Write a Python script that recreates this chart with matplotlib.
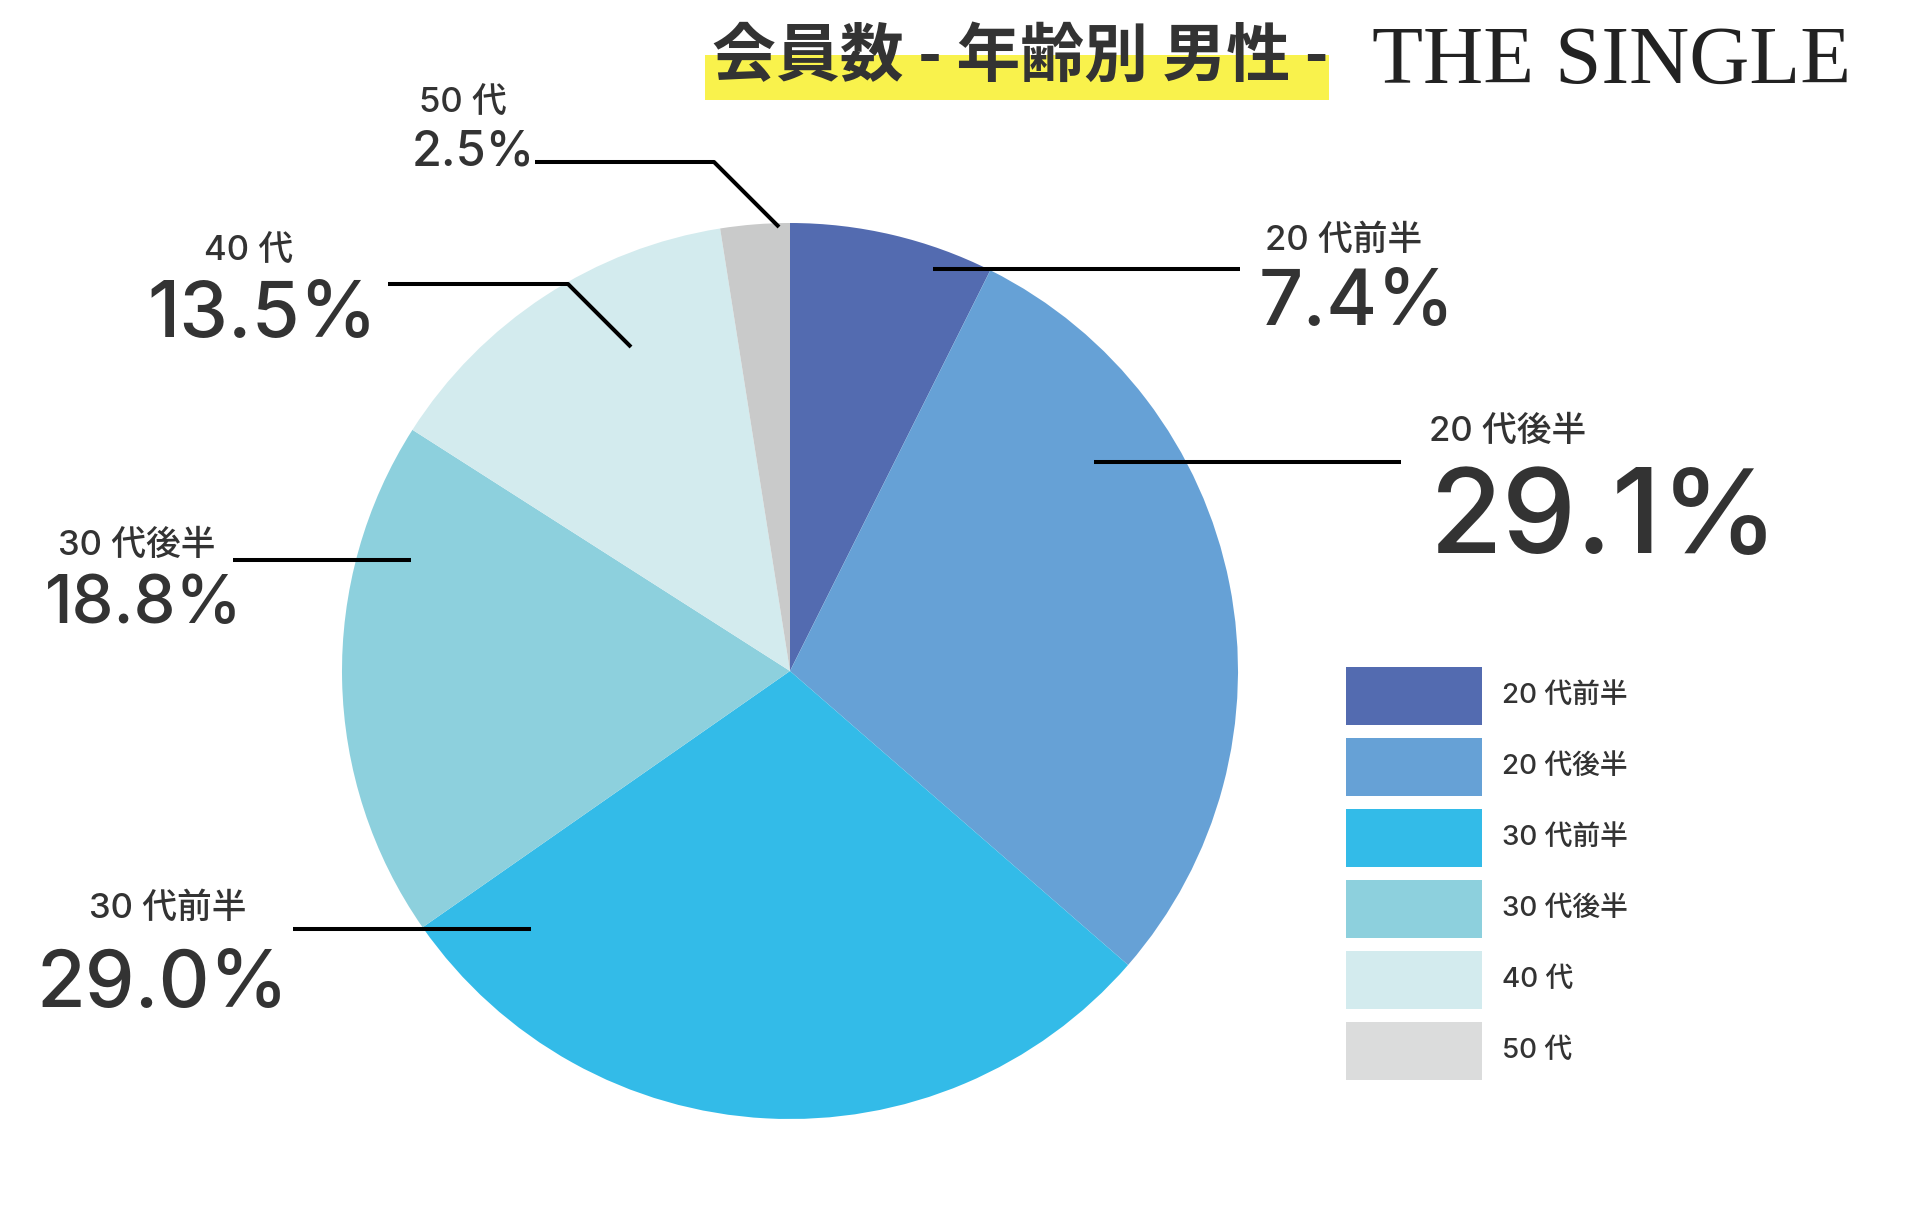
import matplotlib.pyplot as plt
from matplotlib.patches import Rectangle

plt.rcParams['font.family'] = ['Inter', 'Noto Sans CJK JP', 'DejaVu Sans']

# data
labels = ['20 代前半', '20 代後半', '30 代前半', '30 代後半', '40 代', '50 代']
shares = [7.4, 29.1, 29.0, 18.8, 13.5, 2.5]
pie_colors = ['#536BB0', '#66A1D6', '#33BBE8', '#8DD0DD', '#D3EBEE', '#C9CACA']
legend_colors = ['#536BB0', '#66A1D6', '#33BBE8', '#8DD0DD', '#D3EBEE', '#DBDCDC']

W, H = 1920, 1205
fig = plt.figure(figsize=(W / 100, H / 100), dpi=100)
ax = fig.add_axes([0, 0, 1, 1])


def Y(y):
    # image-style y (from top) -> data y
    return H - y


ax.pie(shares, colors=pie_colors, startangle=90, counterclock=False,
       center=(790, Y(671)), radius=448, wedgeprops=dict(linewidth=0), frame=True)
ax.set_xlim(0, W)
ax.set_ylim(0, H)
ax.set_aspect('equal')
ax.axis('off')

# callouts: small label pos, big value pos, value size, leader polyline
callouts = [
    ((1265, 241), (1259, 304), 56, [(933, 269), (1240, 269)]),
    ((1429, 432), (1430, 522), 85, [(1094, 462), (1401, 462)]),
    ((89, 909), (37, 986), 57, [(293, 929), (531, 929)]),
    ((58, 546), (45, 606), 48, [(233, 560), (411, 560)]),
    ((204, 251), (147, 316), 56, [(388, 284), (568, 284), (631, 347)]),
    ((419, 103), (412, 152), 35, [(535, 162), (714, 162), (779, 227)]),
]
txt = '#333333'
for lab, val, (sp, bp, bs, line) in zip(labels, shares, callouts):
    ax.text(sp[0], Y(sp[1]), lab, fontsize=25, color=txt, ha='left', va='center',
            fontweight='medium')
    ax.text(bp[0], Y(bp[1]), f'{val:.1f}%', fontsize=bs, color=txt, ha='left',
            va='center', fontweight='medium')
    xs = [p[0] for p in line]
    ys = [Y(p[1]) for p in line]
    ax.plot(xs, ys, color='black', lw=2.9, solid_capstyle='butt')

# legend
for i, (lab, c) in enumerate(zip(labels, legend_colors)):
    top = 667 + i * 71
    ax.add_patch(Rectangle((1346, Y(top + 58)), 136, 58, color=c, lw=0))
    ax.text(1502, Y(top + 29), lab, fontsize=20, color=txt, ha='left', va='center',
            fontweight='medium')

# title with highlight
ax.add_patch(Rectangle((705, Y(100)), 624, 45, color='#F9F24C', lw=0, zorder=1))
ax.text(1020, Y(57), '会員数 - 年齢別 男性 -', fontsize=46, fontweight='bold',
        family=['Noto Sans CJK JP', 'DejaVu Sans'],
        color='#333333', ha='center', va='center', zorder=2)

# logo
ax.text(1612, Y(63), 'THE SINGLE', fontsize=60, family='Liberation Serif',
        fontweight='light', color='#222222', ha='center', va='center')

fig.savefig('out.png', dpi=100, facecolor='white')
